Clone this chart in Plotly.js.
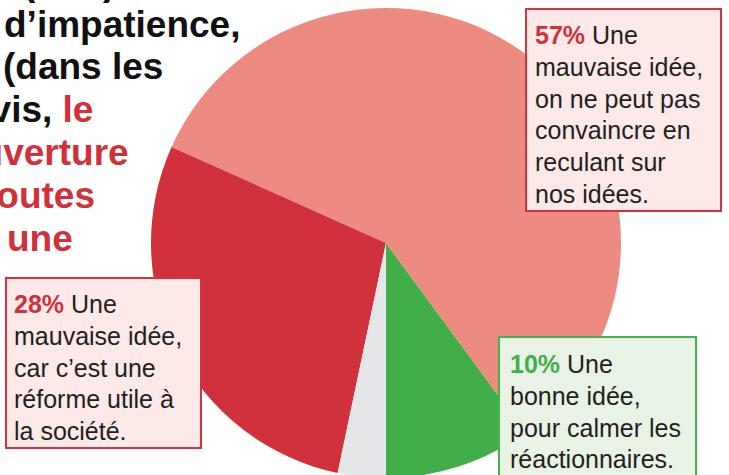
<!DOCTYPE html>
<html><head><meta charset="utf-8">
<script src="https://cdn.plot.ly/plotly-3.0.1.min.js"></script>
<style>html,body{margin:0;padding:0;overflow:hidden;background:#fff}#chart{width:729px;height:500px}</style>
</head><body><div id="chart"></div>
<script>
// ---- data ----
const sliceLabels = ["Une bonne idée", "Une mauvaise idée, on ne peut pas convaincre", "Une mauvaise idée, réforme utile", "Sans opinion"];
const sliceValues = [10.1, 58.2, 28.4, 3.3];
const percentText = ["10%", "57%", "28%"];
const goodLines = ["Une", "bonne idée,", "pour calmer les", "réactionnaires."];
const bad1Lines = ["Une", "mauvaise idée,", "on ne peut pas", "convaincre en", "reculant sur", "nos idées."];
const bad2Lines = ["Une", "mauvaise idée,", "car c’est une", "réforme utile à", "la société."];
const titleBlack = ["(non)", "d’impatience,", "(dans les", "avis,", "", "", ""];
const titleRed = ["", "", "", " le", "ouverture", "toutes", "une"];

// ---- layout helpers ----
const W = 729, H = 500;
const px = v => v / W;
const py = v => 1 - v / H;
const RED = '#D0313B', SALMON = '#EE8B80', GREEN = '#41AE4A', GREY = '#E5E6E7';
const FONT = 'Liberation Sans, Arial, sans-serif';

const total = sliceValues.reduce((a, b) => a + b, 0);
const trace = {
  type: 'pie',
  labels: sliceLabels,
  values: sliceValues,
  sort: false,
  direction: 'counterclockwise',
  rotation: 180 - 360 * sliceValues[0] / total,
  textinfo: 'none',
  hoverinfo: 'none',
  marker: {colors: [GREEN, SALMON, RED, GREY], line: {width: 0}},
  domain: {x: [px(151), px(621)], y: [22 / H, 492 / H]},
  showlegend: false
};

const annotations = [];
const shapes = [];

// title lines (cut at left edge)
const titleX = [22, 3, 1.5, -31, -43.5, -17, 6];
const titleBase = [-6, 36, 78.8, 121.6, 164.4, 207.2, 250];
const titleSize = 37;
titleBlack.forEach((b, i) => {
  let t = '';
  if (b) t += b;
  if (titleRed[i]) t += '<span style="color:' + RED + '">' + titleRed[i] + '</span>';
  annotations.push({
    xref: 'paper', yref: 'paper', x: px(titleX[i]), y: py(titleBase[i] - 0.905 * titleSize),
    xanchor: 'left', yanchor: 'top', showarrow: false, borderpad: 0,
    text: '<b>' + t + '</b>', font: {family: FONT, size: titleSize, color: '#111111'}
  });
});

function callout(lines, pct, pctColor, box, textX, base1, stroke, fill) {
  shapes.push({
    type: 'rect', xref: 'paper', yref: 'paper', layer: 'above',
    x0: px(box[0] + 1), x1: px(box[1] - 1), y0: py(box[3] - 1), y1: py(box[2] + 1),
    line: {color: stroke, width: 2}, fillcolor: fill
  });
  const size = 25;
  lines.forEach((l, k) => {
    const base = base1 + k * 31.7;
    const t = k === 0 ? '<span style="color:' + pctColor + '"><b>' + pct + '</b></span> ' + l : l;
    annotations.push({
      xref: 'paper', yref: 'paper', x: px(textX), y: py(base - 0.905 * size),
      xanchor: 'left', yanchor: 'top', showarrow: false, borderpad: 0,
      text: t, font: {family: FONT, size: size, color: '#231F20'}
    });
  });
}

callout(bad1Lines, percentText[1], RED, [525, 722, 8, 212], 534.4, 43, '#D1343E', '#FDE9E8');
callout(bad2Lines, percentText[2], RED, [5, 202, 277, 449], 13.4, 312, '#D1343E', '#FDE9E8');
callout(goodLines, percentText[0], GREEN, [498, 697, 336, 478], 509, 372, '#45B04D', '#E8F3E6');

Plotly.newPlot('chart', [trace], {
  width: W, height: H,
  margin: {l: 0, r: 0, t: 0, b: 0},
  paper_bgcolor: '#ffffff',
  annotations: annotations,
  shapes: shapes
}, {staticPlot: true, displayModeBar: false});
</script></body></html>
